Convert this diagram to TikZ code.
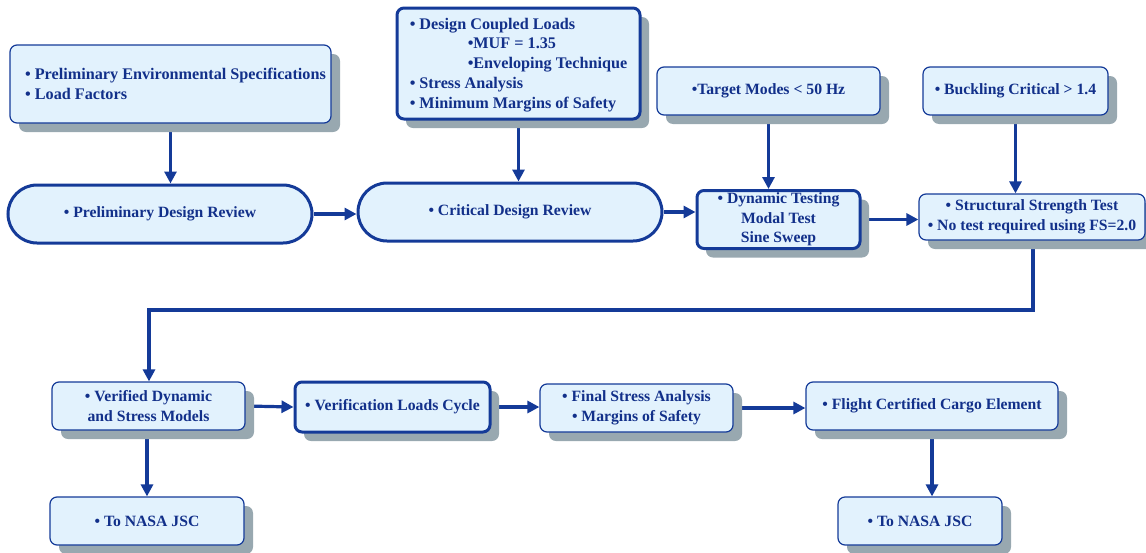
\documentclass[tikz,border=0pt]{standalone}
\usepackage{fontspec}
\setmainfont{Liberation Serif}
\usetikzlibrary{arrows.meta,shadows,backgrounds}
\definecolor{txtblue}{RGB}{18,48,138}
\definecolor{bordblue}{RGB}{20,58,152}
\definecolor{fillblue}{RGB}{226,242,253}
\definecolor{shadgray}{RGB}{152,168,176}
\tikzset{
  every node/.style={font=\fontsize{15.7}{19.5}\selectfont\bfseries, text=txtblue},
  bigtext/.style={font=\fontsize{16.2}{19.7}\selectfont\bfseries},
  box/.style={draw=bordblue, line width=1.2pt, fill=fillblue, rounded corners=7pt,
    align=center, inner sep=2pt,
    drop shadow={shadow xshift=9pt, shadow yshift=-9pt, fill=shadgray, opacity=1}},
  thickbox/.style={box, line width=3pt},
  stadium/.style={draw=bordblue, line width=3pt, fill=fillblue, rounded corners=29pt, align=center},
  arr/.style={draw=bordblue, line width=3.2pt, -{Triangle[length=12pt,width=12pt]}},
}
\begin{document}
\begin{tikzpicture}[x=1pt,y=-1pt]
\useasboundingbox (0,0) rectangle (1146,552);
% top boxes
\node[box, bigtext, minimum width=321pt, minimum height=78pt, align=left] (env) at (170.5,84)
  {\hspace*{10pt}• Preliminary Environmental Specifications\\\hspace*{10pt}• Load Factors};
\node[thickbox, bigtext, minimum width=243pt, minimum height=111pt, align=left] (dcl) at (518.5,63.5)
  {\strut• Design Coupled Loads\\\hspace*{58pt}•MUF = 1.35\\\hspace*{58pt}•Enveloping Technique\\• Stress Analysis\\• Minimum Margins of Safety};
\node[box, minimum width=223pt, minimum height=48pt] (tgt) at (768.5,91) {•Target Modes < 50 Hz};
\node[box, minimum width=185pt, minimum height=48pt] (buck) at (1015.5,91) {• Buckling Critical > 1.4};
% second row
\node[stadium, minimum width=304pt, minimum height=58pt] (pdr) at (160,214) {• Preliminary Design Review};
\node[stadium, minimum width=304pt, minimum height=58pt] (cdr) at (510,212) {• Critical Design Review};
\node[thickbox, minimum width=163pt, minimum height=58pt] (dyn) at (778.5,219.5)
  {• Dynamic Testing\\Modal Test\\Sine Sweep};
\node[box, minimum width=226pt, minimum height=46pt] (sst) at (1032,217)
  {• Structural Strength Test\\• No test required using FS=2.0};
% third row
\node[box, minimum width=193pt, minimum height=48pt] (ver) at (148.5,406)
  {• Verified Dynamic\\and Stress Models};
\node[thickbox, minimum width=195pt, minimum height=50pt] (vlc) at (392.5,407) {• Verification Loads Cycle};
\node[box, minimum width=193pt, minimum height=48pt] (fsa) at (636.5,408)
  {• Final Stress Analysis\\• Margins of Safety};
\node[box, minimum width=252pt, minimum height=48pt] (fcc) at (932,406) {• Flight Certified Cargo Element};
% bottom
\node[box, minimum width=194pt, minimum height=48pt] (jsc1) at (147,521) {• To NASA JSC};
\node[box, minimum width=164pt, minimum height=48pt] (jsc2) at (920,521) {• To NASA JSC};
\coordinate (c1) at (1033,310);
\coordinate (c2) at (149,310);
% connectors
\begin{scope}[on background layer]
\draw[arr] (env.south) -- (env.south |- pdr.north);
\draw[arr] (dcl.south) -- (dcl.south |- cdr.north);
\draw[arr] (tgt.south) -- (tgt.south |- dyn.north);
\draw[arr] (buck.south) -- (buck.south |- sst.north);
\draw[arr] (pdr.east) -- (cdr.west |- pdr.east);
\draw[arr] (cdr.east) -- (dyn.west |- cdr.east);
\draw[arr] (dyn.east) -- (sst.west |- dyn.east);
\draw[arr] (sst.south -| c1) -- (c1) -- (c2) -- (c2 |- ver.north);
\draw[arr] (ver.east) -- (vlc.west);
\draw[arr] (vlc.east) -- (fsa.west |- vlc.east);
\draw[arr] (fsa.east) -- (fcc.west |- fsa.east);
\draw[arr] (ver.south -| jsc1.north) -- (jsc1.north);
\draw[arr] (fcc.south) -- (fcc.south |- jsc2.north);
\end{scope}
\end{tikzpicture}
\end{document}
